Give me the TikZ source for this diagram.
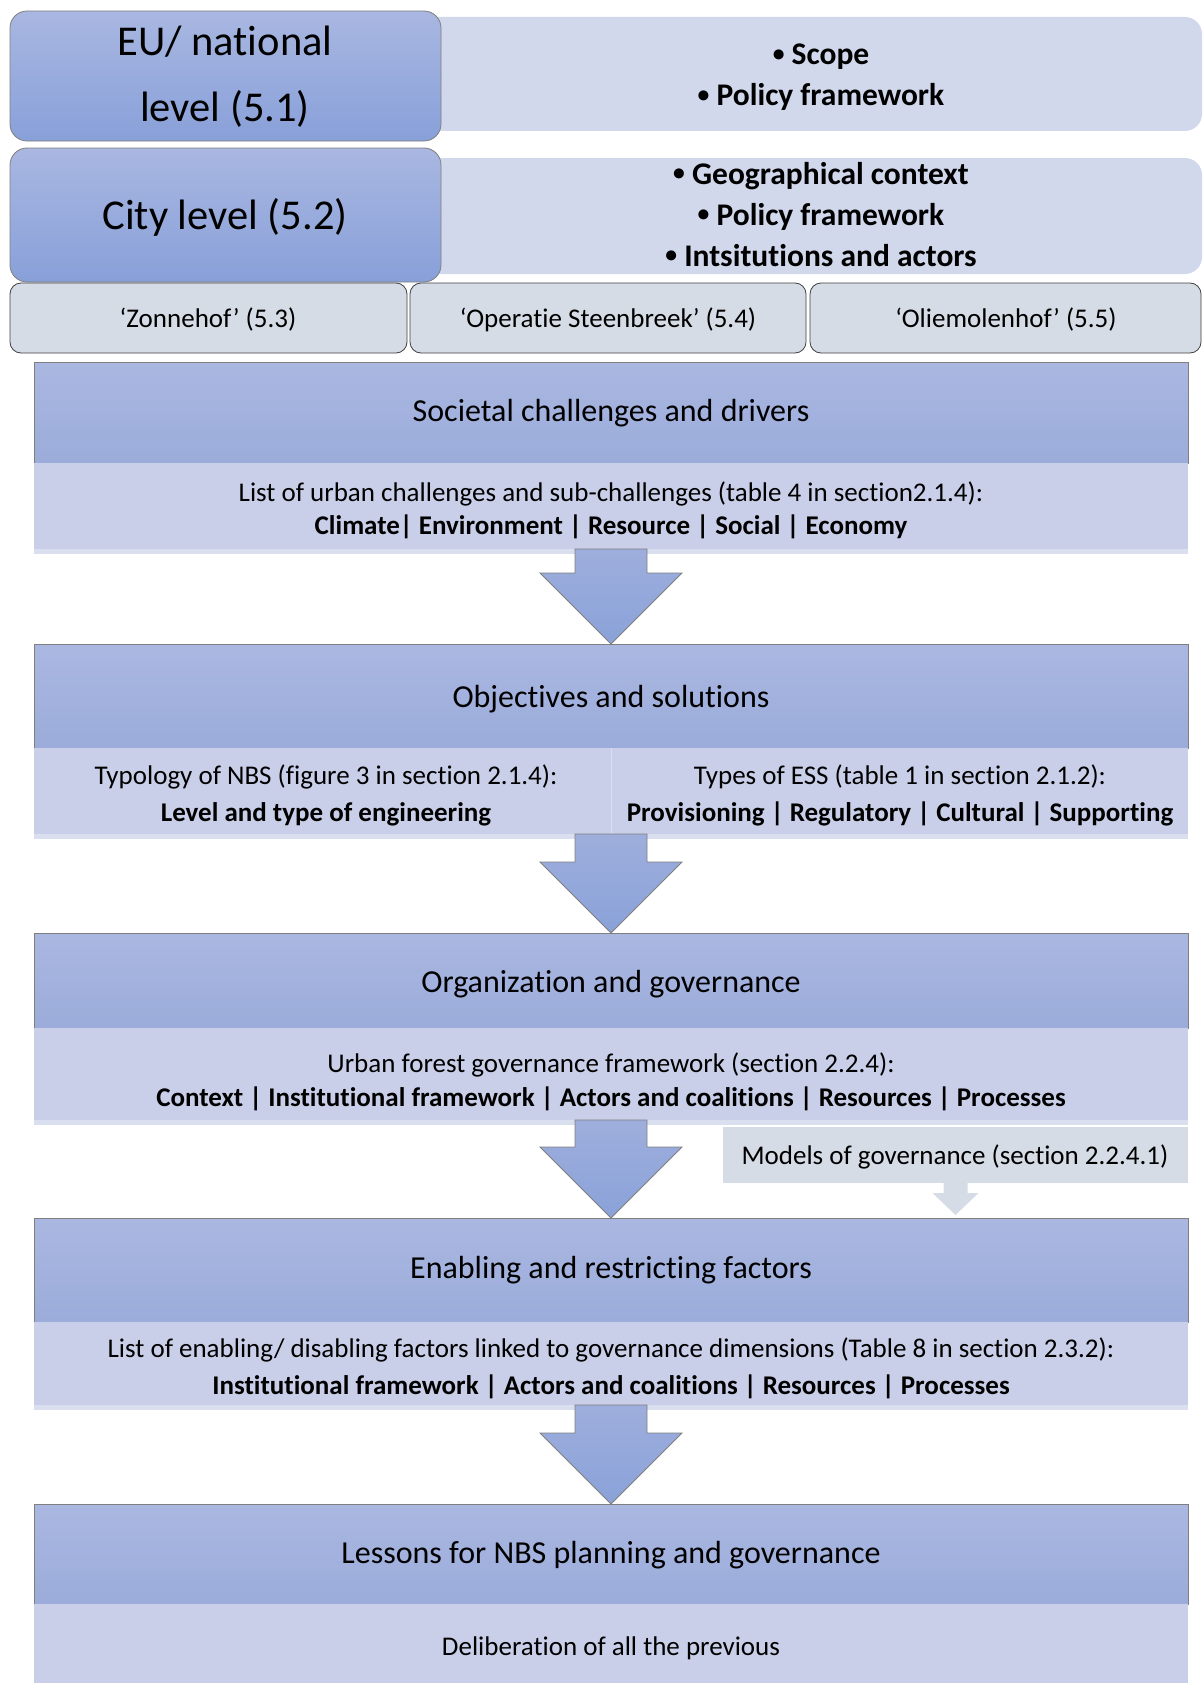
\documentclass[tikz,border=0pt]{standalone}
\usepackage{fontspec}
\setmainfont{Carlito}[Ligatures=NoCommon]
\usetikzlibrary{calc}
\definecolor{hdrTop}{HTML}{AAB7E1}
\definecolor{hdrBot}{HTML}{9BACDA}
\definecolor{bodyC}{HTML}{C9CFE8}
\definecolor{stripC}{HTML}{DADFF0}
\definecolor{panelC}{HTML}{D2D8EC}
\definecolor{caseC}{HTML}{D6DCE5}
\definecolor{lvlTop}{HTML}{A9B7E1}
\definecolor{lvlBot}{HTML}{88A0D9}
\definecolor{arrTop}{HTML}{9EAEDC}
\definecolor{arrBot}{HTML}{8AA2D9}
\definecolor{lineC}{HTML}{7F7F7F}
\newcommand{\bigarrow}[2]{%
  \path[bigarr] let \p1=(#1.south), \p2=(#2.north) in
    (\x1-36pt,\y1) -- (\x1+36pt,\y1) -- (\x1+36pt,\y2+71pt) -- (\x1+71pt,\y2+71pt)
    -- (\x1,\y2) -- (\x1-71pt,\y2+71pt) -- (\x1-36pt,\y2+71pt) -- cycle;}
\newcommand{\bulsym}{\raisebox{0.1em}{\scalebox{0.75}{•}}~}
\begin{document}
\begin{tikzpicture}[x=1pt,y=-1pt,
  boxbase/.style={inner sep=0pt, outer sep=0pt, anchor=north west},
  panel/.style={boxbase, fill=panelC, rounded corners=17pt},
  level/.style={boxbase, top color=lvlTop, bottom color=lvlBot, draw=lineC, line width=0.8pt, rounded corners=17pt},
  casebox/.style={boxbase, fill=caseC, draw=black!75, line width=0.8pt, rounded corners=11pt},
  hdr/.style={boxbase, top color=hdrTop, bottom color=hdrBot, draw=lineC, line width=0.9pt, minimum width=1154pt},
  bodybox/.style={boxbase, fill=bodyC, minimum width=1154pt},
  modelbox/.style={boxbase, fill=caseC},
  bigarr/.style={top color=arrTop, bottom color=arrBot, draw=lineC, line width=0.8pt},
  smallarr/.style={fill=caseC},
  txt/.style={inner sep=0pt, anchor=base},
  bigtxt/.style={txt, font=\fontsize{42.5}{50}\selectfont},
  bultxt/.style={txt, font=\fontsize{31.5}{38}\selectfont\bfseries},
  casetxt/.style={txt, font=\fontsize{27}{32}\selectfont},
  titletxt/.style={txt, font=\fontsize{32}{38}\selectfont},
  bodytxt/.style={txt, font=\fontsize{27}{32}\selectfont},
  boldtxt/.style={txt, font=\fontsize{27}{32}\selectfont\bfseries}
]
\useasboundingbox (0,0) rectangle (1202,1683);

% ---- top section
\node[panel, minimum width=782pt, minimum height=114pt] (p1) at (420,17) {};
\node[panel, minimum width=782pt, minimum height=116pt] (p2) at (420,158) {};
\node[level, minimum width=431pt, minimum height=130pt] (eu) at (10,11) {};
\node[level, minimum width=431pt, minimum height=134pt] (city) at (10,148) {};
\node[casebox, minimum width=397pt, minimum height=70pt] (c1) at (10,283) {};
\node[casebox, minimum width=396pt, minimum height=70pt] (c2) at (410,283) {};
\node[casebox, minimum width=391pt, minimum height=70pt] (c3) at (810,283) {};

\node[bigtxt] (eu1) at (225,56) {EU/ national};
\node[bigtxt] (eu2) at (225,122) {level (5.1)};
\node[bigtxt] (city1) at (225,229) {City level (5.2)};
\node[bultxt] (p1a) at (821,65) {\bulsym Scope};
\node[bultxt] (p1b) at (821,106) {\bulsym Policy framework};
\node[bultxt] (p2a) at (821,184) {\bulsym Geographical context};
\node[bultxt] (p2b) at (821,225) {\bulsym Policy framework};
\node[bultxt] (p2c) at (821,266) {\bulsym Intsitutions and actors};
\node[casetxt] (c1t) at (208,327) {‘Zonnehof’ (5.3)};
\node[casetxt] (c2t) at (608,327) {‘Operatie Steenbreek’ (5.4)};
\node[casetxt] (c3t) at (1006,327) {‘Oliemolenhof’ (5.5)};

% ---- section boxes
\node[hdr, minimum height=101pt] (h1) at (34,362) {};
\node[bodybox, minimum height=86pt] (b1) at (34,463) {};
\node[hdr, minimum height=104pt] (h2) at (34,644) {};
\node[bodybox, minimum height=86pt] (b2) at (34,748) {};
\node[hdr, minimum height=95pt] (h3) at (34,933) {};
\node[bodybox, minimum height=92pt] (b3) at (34,1028) {};
\node[hdr, minimum height=104pt] (h4) at (34,1218) {};
\node[bodybox, minimum height=83pt] (b4) at (34,1322) {};
\node[hdr, minimum height=100pt] (h5) at (34,1504) {};
\node[bodybox, minimum height=79pt] (b5) at (34,1604) {};

\foreach \b in {b1,b2,b3,b4}{\fill[stripC] (\b.south west) rectangle ++(1154,5);}
\draw[stripC, line width=1pt] (b2.north) -- (b2.south);

\node[modelbox, minimum width=465pt, minimum height=56pt] (mod) at (723,1127) {};

% ---- arrows
\bigarrow{b1}{h2}
\bigarrow{b2}{h3}
\bigarrow{b3}{h4}
\bigarrow{b4}{h5}
\path[smallarr] let \p1=(mod.south), \p2=(h4.north) in
  (\x1-12pt,\y1) -- (\x1+12pt,\y1) -- (\x1+12pt,\y2+25pt) -- (\x1+23pt,\y2+25pt)
  -- (\x1,\y2+3pt) -- (\x1-23pt,\y2+25pt) -- (\x1-12pt,\y2+25pt) -- cycle;

% ---- texts
\node[titletxt] (t1) at (611,421) {Societal challenges and drivers};
\node[bodytxt] (t1a) at (611,501) {List of urban challenges and sub-challenges (table 4 in section2.1.4):};
\node[boldtxt] (t1b) at (611,534) {Climate| Environment | Resource | Social | Economy};

\node[titletxt] (t2) at (611,707) {Objectives and solutions};
\node[bodytxt] (t2a) at (326,784) {Typology of NBS (figure 3 in section 2.1.4):};
\node[boldtxt] (t2b) at (326,821) {Level and type of engineering};
\node[bodytxt] (t2c) at (900,784) {Types of ESS (table 1 in section 2.1.2):};
\node[boldtxt] (t2d) at (900,821) {Provisioning | Regulatory | Cultural | Supporting};

\node[titletxt] (t3) at (611,992) {Organization and governance};
\node[bodytxt] (t3a) at (611,1072) {Urban forest governance framework (section 2.2.4):};
\node[boldtxt] (t3b) at (611,1106) {Context | Institutional framework | Actors and coalitions | Resources | Processes};
\node[bodytxt] (modt) at (955,1164) {Models of governance (section 2.2.4.1)};

\node[titletxt] (t4) at (611,1278) {Enabling and restricting factors};
\node[bodytxt] (t4a) at (611,1357) {List of enabling/ disabling factors linked to governance dimensions (Table 8 in section 2.3.2):};
\node[boldtxt] (t4b) at (611,1394) {Institutional framework | Actors and coalitions | Resources | Processes};

\node[titletxt] (t5) at (611,1563) {Lessons for NBS planning and governance};
\node[bodytxt] (t5a) at (611,1655) {Deliberation of all the previous};
\end{tikzpicture}
\end{document}
